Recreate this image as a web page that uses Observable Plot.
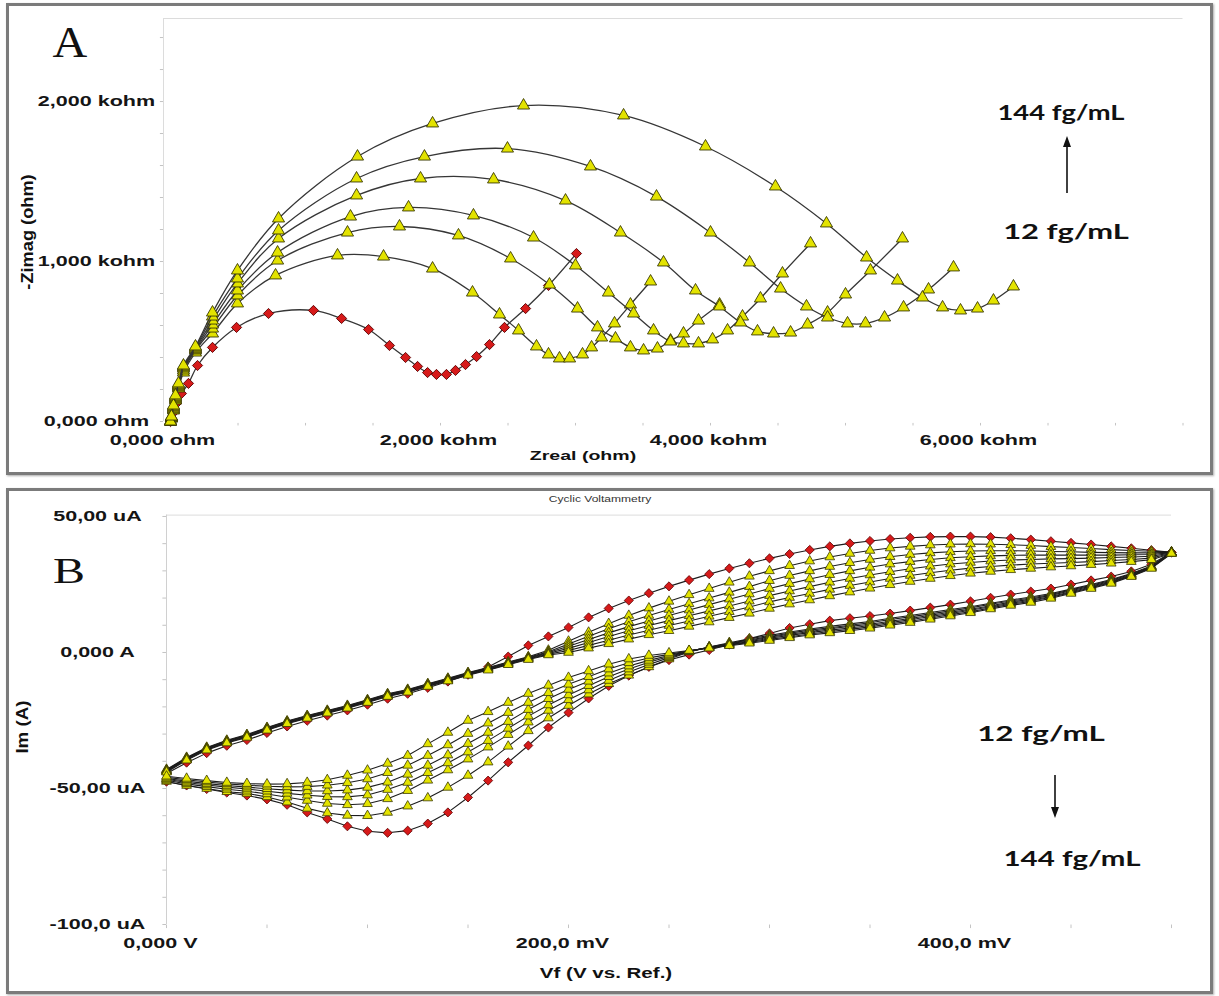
<!DOCTYPE html>
<html><head><meta charset="utf-8">
<script src="https://cdn.jsdelivr.net/npm/d3@7"></script>
<script src="https://cdn.jsdelivr.net/npm/@observablehq/plot@0.6"></script>
<style>
html,body{margin:0;padding:0;background:#fff;}
#page{position:relative;width:1219px;height:996px;overflow:hidden;background:#fff;font-family:"Liberation Sans",Arial,sans-serif;}
.frame{position:absolute;box-sizing:border-box;border:3px solid #7b7b7b;box-shadow:1px 1px 2px #aaa;pointer-events:none;}
.lbl{position:absolute;white-space:nowrap;line-height:1;color:#111;}
.plot{position:absolute;left:0;}
</style></head><body><div id="page"></div>
<script>
// ---------- Panel A: Nyquist (kohm) ----------
const nyqRedRe = [0,22,44,81,133,200,311,489,726,1059,1267,1467,1622,1741,1830,1904,1970,2044,2111,2185,2267,2363,2474,2630,2800,3007];
const nyqRedIm = [0,56,113,175,238,350,463,588,675,694,644,575,475,400,344,306,294,294,319,356,406,481,588,706,850,1050];
const nyqY1Re = [0,7,22,37,59,96,185,311,496,778,1237,1578,1941,2237,2437,2578,2711,2800,2881,2956,3052,3119,3193,3289,3407,3556];
const nyqY1Im = [0,19,69,131,206,306,431,550,738,913,1038,1031,956,806,669,569,469,419,394,394,419,463,525,613,731,875];
const nyqY2Re = [0,7,22,37,59,96,185,311,496,793,1311,1696,2133,2519,2807,3015,3163,3296,3407,3504,3607,3704,3800,3911,4067];
const nyqY2Im = [0,19,75,138,213,319,444,581,788,1006,1181,1219,1163,1019,856,706,588,519,463,444,456,506,550,631,731];
const nyqY3Re = [0,7,22,37,59,96,185,311,496,793,1333,1763,2244,2689,3000,3244,3430,3578,3704,3800,3911,4015,4126,4237,4370,4533,4741];
const nyqY3Im = [0,25,81,144,219,331,450,606,819,1056,1281,1338,1288,1150,975,806,675,569,500,488,488,513,569,656,769,925,1113];
const nyqY4Re = [0,7,22,37,59,96,185,311,496,800,1378,1852,2393,2926,3333,3652,3889,4067,4222,4348,4467,4593,4719,4867,5000,5185,5422];
const nyqY4Im = [0,25,88,150,225,338,456,631,863,1144,1413,1519,1513,1381,1181,994,819,719,619,563,550,556,606,681,794,944,1144];
const nyqY5Re = [0,7,22,37,59,96,185,311,496,800,1378,1881,2496,3111,3600,4000,4289,4519,4711,4867,5015,5148,5289,5430,5615,5800];
const nyqY5Im = [0,31,94,156,231,344,463,656,894,1194,1519,1656,1706,1594,1406,1181,994,831,719,650,613,613,650,713,825,963];
const nyqY6Re = [0,7,22,37,59,96,185,311,496,800,1385,1941,2615,3356,3963,4481,4859,5156,5385,5570,5719,5852,5978,6096,6244];
const nyqY6Im = [0,31,100,163,238,350,469,681,944,1269,1656,1863,1975,1913,1719,1469,1238,1025,881,775,713,694,706,756,844];

const aXTicks = [0, 2000, 4000, 6000];
const aXTickLabels = ["0,000 ohm", "2,000 kohm", "4,000 kohm", "6,000 kohm"];
const aYTicks = [0, 1000, 2000];
const aYTickLabels = ["0,000 ohm", "1,000 kohm", "2,000 kohm"];
const aXMinor = [0,500,1000,1500,2000,2500,3000,3500,4000,4500,5000,5500,6000,6500,7000,7500];
const aYMinor = [0,200,400,600,800,1000,1200,1400,1600,1800,2000,2200,2400];

// ---------- Panel B: Cyclic voltammetry (mV, uA) ----------
const cvPotential = [0,10,20,30,40,50,60,70,80,90,100,110,120,130,140,150,160,170,180,190,200,210,220,230,240,250,260,270,280,290,300,310,320,330,340,350,360,370,380,390,400,410,420,430,440,450,460,470,480,490,500];
const cvRedFwd = [-44.5,-40.5,-37.0,-34.3,-32.2,-29.6,-27.2,-25.1,-23.2,-21.3,-19.2,-17.0,-15.2,-13.0,-10.7,-8.2,-5.3,-1.5,2.6,5.9,9.2,12.9,16.2,19.1,21.8,24.3,26.6,28.8,30.9,32.8,34.6,36.2,37.7,39.0,40.1,41.0,41.7,42.2,42.5,42.6,42.6,42.4,42.0,41.5,40.9,40.3,39.7,39.0,38.3,37.6,36.8];
const cvRedRev = [-47.5,-48.9,-50.2,-51.5,-52.6,-54.0,-56.0,-58.8,-61.2,-63.9,-65.7,-66.3,-65.5,-62.9,-58.8,-53.3,-47.1,-40.4,-34.2,-27.6,-22.1,-16.9,-12.3,-8.5,-5.3,-2.8,-0.8,0.9,2.9,5.1,7.0,9.0,10.4,11.7,12.6,13.4,14.3,15.4,16.5,17.6,18.8,20.1,21.3,22.4,23.5,25.0,26.5,27.9,29.8,32.4,36.8];
const cvY1Fwd = [-43.0,-38.6,-34.9,-32.3,-30.2,-27.6,-25.2,-23.2,-21.3,-19.5,-17.4,-15.2,-13.6,-11.5,-9.5,-7.4,-5.5,-3.5,-1.6,0.8,4.1,7.4,10.6,13.6,16.3,18.8,21.2,23.5,25.8,28.0,30.0,31.9,33.6,35.1,36.4,37.5,38.4,39.0,39.5,39.8,39.9,39.8,39.6,39.3,38.9,38.6,38.2,37.8,37.5,37.2,36.9];
const cvY1Rev = [-47.4,-48.9,-50.0,-51.2,-51.8,-53.1,-55.0,-57.3,-59.0,-59.9,-60.0,-58.8,-56.5,-53.5,-49.6,-45.2,-40.3,-34.5,-28.8,-24.1,-19.5,-15.3,-11.5,-8.4,-5.3,-2.4,0.2,2.0,3.6,5.0,6.3,7.5,8.6,9.6,10.5,11.4,12.6,13.6,14.7,15.8,16.8,18.1,19.3,20.4,21.7,23.3,25.0,26.8,29.0,31.8,36.9];
const cvY2Fwd = [-43.2,-38.8,-35.1,-32.5,-30.4,-27.8,-25.4,-23.4,-21.5,-19.7,-17.6,-15.4,-13.8,-11.7,-9.7,-7.6,-5.7,-3.7,-1.8,0.3,3.1,6.0,8.7,11.3,13.6,15.8,17.9,20.0,22.1,24.2,26.4,28.3,30.0,31.6,33.0,34.2,35.2,36.0,36.6,37.0,37.3,37.4,37.4,37.3,37.1,37.0,36.8,36.7,36.6,36.6,36.8];
const cvY2Rev = [-47.0,-48.3,-49.3,-50.3,-51.0,-52.0,-53.2,-54.4,-55.5,-56.0,-55.6,-53.8,-50.8,-47.0,-43.2,-39.2,-34.8,-30.2,-25.6,-21.3,-17.4,-13.8,-10.3,-7.2,-4.4,-1.9,0.3,2.0,3.3,4.6,5.9,7.1,8.2,9.1,10.0,10.9,12.1,13.1,14.2,15.3,16.4,17.7,18.9,20.0,21.3,23.0,24.7,26.5,28.8,31.6,36.8];
const cvY3Fwd = [-43.4,-39.0,-35.3,-32.7,-30.6,-28.0,-25.6,-23.6,-21.7,-19.9,-17.8,-15.6,-14.0,-11.9,-9.9,-7.8,-5.9,-3.9,-2.0,0.0,2.3,4.8,7.2,9.5,11.6,13.6,15.6,17.6,19.6,21.5,23.5,25.3,27.0,28.6,30.0,31.3,32.5,33.4,34.2,34.8,35.2,35.5,35.7,35.8,35.8,35.8,35.8,35.8,35.9,36.0,36.7];
const cvY3Rev = [-46.6,-47.8,-48.7,-49.5,-50.2,-51.0,-51.8,-52.5,-53.0,-53.1,-52.4,-50.4,-47.8,-44.2,-40.6,-36.6,-32.4,-27.9,-23.4,-19.3,-15.6,-12.2,-8.9,-6.1,-3.6,-1.5,0.4,1.9,3.1,4.3,5.6,6.7,7.7,8.7,9.6,10.4,11.5,12.5,13.7,14.8,15.9,17.2,18.5,19.6,21.0,22.7,24.4,26.2,28.5,31.4,36.7];
const cvY4Fwd = [-43.6,-39.2,-35.5,-32.9,-30.8,-28.2,-25.8,-23.8,-21.9,-20.1,-18.0,-15.8,-14.2,-12.1,-10.1,-8.0,-6.1,-4.1,-2.2,-0.3,1.5,3.7,5.9,8.0,9.9,11.7,13.5,15.3,17.1,18.9,20.9,22.6,24.2,25.8,27.2,28.5,29.7,30.8,31.7,32.5,33.1,33.6,34.0,34.2,34.4,34.5,34.7,34.9,35.1,35.4,36.6];
const cvY4Rev = [-46.3,-47.3,-48.2,-48.9,-49.5,-50.1,-50.6,-50.9,-50.9,-50.6,-49.6,-47.7,-44.8,-41.5,-37.7,-33.5,-29.4,-25.4,-21.0,-17.0,-13.6,-10.6,-7.6,-5.0,-2.9,-1.1,0.5,1.8,2.9,4.0,5.2,6.3,7.3,8.2,9.0,9.9,11.0,12.0,13.2,14.3,15.5,16.8,18.1,19.2,20.6,22.3,24.1,25.9,28.3,31.3,36.6];
const cvY5Fwd = [-43.8,-39.4,-35.7,-33.1,-31.0,-28.4,-26.0,-24.0,-22.1,-20.3,-18.2,-16.0,-14.4,-12.3,-10.3,-8.2,-6.3,-4.3,-2.4,-0.6,0.7,2.6,4.5,6.4,8.2,9.9,11.6,13.3,15.0,16.7,18.6,20.2,21.7,23.2,24.6,25.9,27.2,28.3,29.3,30.2,31.0,31.6,32.1,32.5,32.8,33.1,33.4,33.8,34.2,34.7,36.5];
const cvY5Rev = [-45.9,-46.8,-47.6,-48.3,-48.8,-49.2,-49.4,-49.3,-48.8,-47.9,-46.5,-44.2,-41.5,-37.9,-34.0,-29.8,-26.0,-22.1,-18.4,-14.8,-11.7,-8.9,-6.1,-3.8,-2.0,-0.7,0.6,1.7,2.7,3.7,4.8,5.8,6.8,7.7,8.5,9.4,10.5,11.5,12.7,13.9,15.0,16.4,17.7,18.8,20.3,22.0,23.8,25.7,28.1,31.1,36.5];
const cvY6Fwd = [-44.0,-39.6,-35.9,-33.3,-31.2,-28.6,-26.2,-24.2,-22.3,-20.5,-18.4,-16.2,-14.6,-12.5,-10.5,-8.4,-6.5,-4.5,-2.6,-0.9,0.0,1.6,3.2,4.9,6.5,8.0,9.6,11.2,12.8,14.4,16.2,17.8,19.3,20.8,22.2,23.6,24.9,26.1,27.2,28.2,29.1,29.8,30.4,30.9,31.4,31.8,32.3,32.8,33.4,34.1,36.4];
const cvY6Rev = [-45.5,-46.3,-47.1,-47.8,-48.2,-48.4,-48.3,-47.8,-46.8,-45.2,-43.3,-40.8,-37.9,-33.6,-29.4,-25.0,-21.8,-18.4,-15.1,-12.1,-9.2,-6.8,-4.3,-2.4,-1.1,-0.2,0.7,1.6,2.5,3.4,4.4,5.4,6.4,7.2,8.0,8.9,10.0,11.0,12.2,13.4,14.6,16.0,17.3,18.4,19.9,21.7,23.5,25.4,27.9,30.9,36.4];

const bXTicks = [0, 200, 400];
const bXTickLabels = ["0,000 V", "200,0 mV", "400,0 mV"];
const bYTicks = [50, 0, -50, -100];
const bYTickLabels = ["50,00 uA", "0,000 A", "-50,00 uA", "-100,0 uA"];
const bXMinor = [0,50,100,150,200,250,300,350,400,450,500];
const bYMinor = [-100,-90,-80,-70,-60,-50,-40,-30,-20,-10,0,10,20,30,40,50];

// ---------- styles ----------
const RED = {symbol: "diamond2", fill: "#d61a1a", stroke: "#5a0000"};
const YEL = {symbol: "triangle", fill: "#e3e300", stroke: "#3a3a00"};
const FONT = "Liberation Sans, Arial, sans-serif";
const page = document.getElementById("page");

function stretchTexts(svg, s) {
  svg.querySelectorAll("text").forEach(t => {
    const tr = t.getAttribute("transform") || "";
    if (tr.includes("rotate")) return;
    const xs = t.getAttribute("x"), ys = t.getAttribute("y");
    const x = xs == null ? 0 : parseFloat(xs), y = ys == null ? 0 : parseFloat(ys);
    if (!isFinite(x) || !isFinite(y)) return;
    t.setAttribute("transform", `${tr} translate(${x},${y}) scale(${s},1) translate(${-x},${-y})`.trim());
  });
}

// ---------- Panel A ----------
const nyqSeries = [
  [nyqRedRe, nyqRedIm, RED, 4.6],
  [nyqY1Re, nyqY1Im, YEL, 4.5],
  [nyqY2Re, nyqY2Im, YEL, 4.5],
  [nyqY3Re, nyqY3Im, YEL, 4.5],
  [nyqY4Re, nyqY4Im, YEL, 4.5],
  [nyqY5Re, nyqY5Im, YEL, 4.5],
  [nyqY6Re, nyqY6Im, YEL, 4.5]
];
const marksA = [
  Plot.ruleY([2519], {stroke: "#dcdcdc"}),
  Plot.ruleX([-52], {stroke: "#dcdcdc"}),
  Plot.ruleY(aYMinor, {y: d => d, x1: -75, x2: -52, stroke: "#c4c4c4"}),
  Plot.ruleX(aXMinor, {x: d => d, y1: -28, y2: -12, stroke: "#c4c4c4"})
];
nyqSeries.forEach(([re, im, st, r]) => {
  const rows = re.map((x, i) => ({x, y: im[i]}));
  marksA.push(Plot.line(rows, {x: "x", y: "y", curve: "catmull-rom", stroke: "#363636", strokeWidth: 1.3}));
  marksA.push(Plot.dot(rows, {x: "x", y: "y", symbol: st.symbol, r, fill: st.fill, stroke: st.stroke, strokeWidth: 0.9}));
});
const tickTxt = {fontFamily: FONT, fontWeight: "bold", fontSize: 15.4, fill: "#151515"};
marksA.push(
  Plot.text(aYTicks, {x: () => -52, y: d => d, dx: -67, textAnchor: "middle", text: (d, i) => aYTickLabels[i], ...tickTxt}),
  Plot.text(aXTicks.slice(1), {x: d => d, y: () => 0, dy: 19, dx: -2, textAnchor: "middle", text: (d, i) => aXTickLabels[i + 1], ...tickTxt}),
  Plot.text(aXTicks.slice(0, 1), {x: d => d, y: () => 0, dy: 19, dx: -8, textAnchor: "middle", text: (d, i) => aXTickLabels[i], ...tickTxt})
);
const svgA = Plot.plot({
  width: 1219, height: 482,
  marginLeft: 163, marginRight: 36.5, marginTop: 18, marginBottom: 61,
  x: {domain: [-52, 7500], axis: null},
  y: {domain: [0, 2519], axis: null},
  style: {background: "transparent", overflow: "visible"},
  marks: marksA
});
svgA.classList.add("plot");
svgA.style.top = "0px";
stretchTexts(svgA, 1.4);
page.appendChild(svgA);

// ---------- Panel B ----------
const cvSeries = [
  [cvRedFwd, cvRedRev, RED, 4.1],
  [cvY1Fwd, cvY1Rev, YEL, 3.6],
  [cvY2Fwd, cvY2Rev, YEL, 3.6],
  [cvY3Fwd, cvY3Rev, YEL, 3.6],
  [cvY4Fwd, cvY4Rev, YEL, 3.6],
  [cvY5Fwd, cvY5Rev, YEL, 3.6],
  [cvY6Fwd, cvY6Rev, YEL, 3.6]
];
const marksB = [
  Plot.ruleY([50.5], {stroke: "#dcdcdc"}),
  Plot.ruleX([0], {stroke: "#d0d0d0"}),
  Plot.ruleY(bYMinor, {y: d => d, x1: -1.8, x2: 0, stroke: "#c4c4c4"}),
  Plot.ruleX(bXMinor, {x: d => d, y1: -101.5, y2: -100.2, stroke: "#c4c4c4"})
];
cvSeries.forEach(([fwd, rev, st, r]) => {
  const rows = cvPotential.map((p, i) => ({x: p, y: fwd[i]}))
    .concat(cvPotential.map((p, i) => ({x: p, y: rev[i]})).reverse());
  marksB.push(Plot.line(rows, {x: "x", y: "y", stroke: "#1c1c1c", strokeWidth: 1.1}));
  marksB.push(Plot.dot(rows, {x: "x", y: "y", symbol: st.symbol, r, fill: st.fill, stroke: st.stroke, strokeWidth: 0.8}));
});
marksB.push(
  Plot.text(bYTicks, {x: () => 0, y: d => d, dx: -69, textAnchor: "middle", text: (d, i) => bYTickLabels[i], ...tickTxt}),
  Plot.text(bXTicks, {x: d => d, y: () => -100, dy: 19, dx: -6, textAnchor: "middle", text: (d, i) => bXTickLabels[i], ...tickTxt})
);
const svgB = Plot.plot({
  width: 1219, height: 514,
  marginLeft: 166, marginRight: 48, marginTop: 32.6, marginBottom: 72,
  x: {domain: [0, 500], axis: null},
  y: {domain: [-100, 50.5], axis: null},
  style: {background: "transparent", overflow: "visible"},
  marks: marksB
});
svgB.classList.add("plot");
svgB.style.top = "482px";
stretchTexts(svgB, 1.4);
page.appendChild(svgB);

// ---------- frames ----------
function frame(l, t, r, b) {
  const d = document.createElement("div");
  d.className = "frame";
  Object.assign(d.style, {left: l + "px", top: t + "px", width: (r - l) + "px", height: (b - t) + "px"});
  page.appendChild(d);
}
frame(6, 3, 1213, 475);
frame(6, 488, 1213, 994);

// ---------- labels ----------
function label(text, cx, cy, w, o) {
  const s = document.createElement("span");
  s.className = "lbl";
  s.textContent = text;
  s.style.fontFamily = o.family || FONT;
  s.style.fontSize = o.size + "px";
  s.style.fontWeight = o.weight || "bold";
  if (o.color) s.style.color = o.color;
  s.style.left = cx + "px";
  s.style.top = cy + "px";
  page.appendChild(s);
  const k = w / s.offsetWidth;
  s.style.transform = o.rotate
    ? `translate(-50%,-50%) rotate(-90deg) scaleX(${k})`
    : `translate(-50%,-50%) scaleX(${k})`;
}
const SERIF = "Liberation Serif, Times New Roman, serif";
const CAL = "Lato, Open Sans, sans-serif";
label("A", 70, 43, 35, {size: 44, weight: "normal", family: SERIF});
label("B", 69, 571, 32, {size: 36, weight: "normal", family: SERIF});
label("-Zimag (ohm)", 28, 232, 115, {size: 16, rotate: true});
label("Zreal (ohm)", 583, 456, 107, {size: 13.7});
label("Cyclic Voltammetry", 600, 499, 103, {size: 9, weight: "normal", color: "#333"});
label("Im (A)", 22, 727, 53, {size: 17, rotate: true});
label("Vf (V vs. Ref.)", 606, 973, 132, {size: 14});
label("144 fg/mL", 1061, 112, 127, {size: 20, family: CAL});
label("12 fg/mL", 1066, 231, 125, {size: 20, family: CAL});
label("12 fg/mL", 1041, 733, 127, {size: 20, family: CAL});
label("144 fg/mL", 1072, 858, 137, {size: 20, family: CAL});

// ---------- arrows ----------
const ov = document.createElementNS("http://www.w3.org/2000/svg", "svg");
ov.setAttribute("width", 1219); ov.setAttribute("height", 996);
ov.style.position = "absolute"; ov.style.left = "0"; ov.style.top = "0"; ov.style.pointerEvents = "none";
ov.innerHTML =
  '<line x1="1067" y1="193" x2="1067" y2="144" stroke="#111" stroke-width="1.6"/>' +
  '<polygon points="1067,136 1063,147 1071,147" fill="#111"/>' +
  '<line x1="1055" y1="775" x2="1055" y2="810" stroke="#111" stroke-width="1.6"/>' +
  '<polygon points="1055,818 1051,807 1059,807" fill="#111"/>';
page.appendChild(ov);
</script></body></html>
